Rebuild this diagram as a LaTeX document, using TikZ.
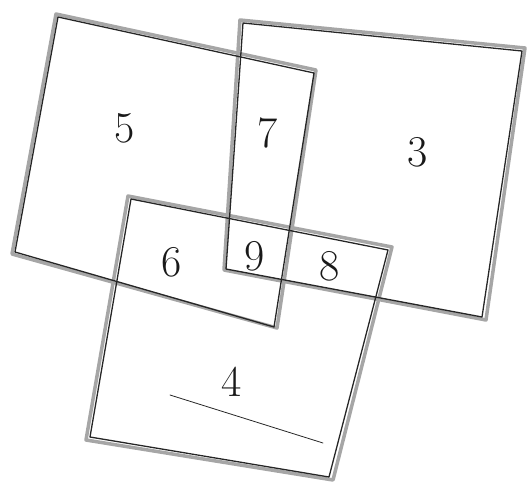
\documentclass[tikz,border=0pt]{standalone}
\usepackage{tikz}

\tikzset{
  pencil/.style={draw=black!85, line width=1.3pt, line cap=round, line join=round},
  smudge/.style={draw=black!35, line width=3.5pt, line cap=round, line join=round},
  digit/.style={inner sep=0.75pt, font=\fontsize{44}{44}\selectfont, text=black!90}
}

\begin{document}
\begin{tikzpicture}[x=1pt,y=1pt,yscale=-1,xscale=1]
\useasboundingbox (0,0) rectangle (530,493);

%corners of square A (top left)
\coordinate (a1) at (56,14);
\coordinate (a2) at (316,70);
\coordinate (a3) at (277,328);
\coordinate (a4) at (12,254);
%corners of square B (top right)
\coordinate (b1) at (240,20);
\coordinate (b2) at (525,48);
\coordinate (b3) at (486,320);
\coordinate (b4) at (224,270);
%corners of square C (bottom)
\coordinate (c1) at (128,196);
\coordinate (c2) at (392,247);
\coordinate (c3) at (333,480);
\coordinate (c4) at (86,440);

%grey strokes
\draw [smudge] (a1) -- (a2) -- (a3) -- (a4) -- cycle;
\draw [smudge] (b1) -- (b2) -- (b3) -- (b4) -- cycle;
\draw [smudge] (c1) -- (c2) -- (c3) -- (c4) -- cycle;

%pencil strokes, a little off the grey ones
\draw [pencil] ([shift={(2,3)}]a1) -- ([shift={(-2,3)}]a2) -- ([shift={(-3,-1)}]a3) -- ([shift={(3,-2)}]a4) -- cycle;
\draw [pencil] ([shift={(3,3)}]b1) -- ([shift={(-3,3)}]b2) -- ([shift={(-4,-3)}]b3) -- ([shift={(2,-1)}]b4) -- cycle;
\draw [pencil] ([shift={(3,3)}]c1) -- ([shift={(-4,3)}]c2) -- ([shift={(-4,-3)}]c3) -- ([shift={(4,-3)}]c4) -- cycle;

%long stroke under the 4
\draw [pencil, line width=0.8pt] (170,395) -- (323,443);

% Text Node
\node (n5) [digit] at (125,128) {5};
% Text Node
\node (n7) [digit] at (268,133) {7};
% Text Node
\node (n3) [digit] at (418,152) {3};
% Text Node
\node (n6) [digit] at (172,262) {6};
% Text Node
\node (n9) [digit] at (255,256) {9};
% Text Node
\node (n8) [digit] at (330,266) {8};
% Text Node
\node (n4) [digit] at (232,382) {4};

\end{tikzpicture}
\end{document}
